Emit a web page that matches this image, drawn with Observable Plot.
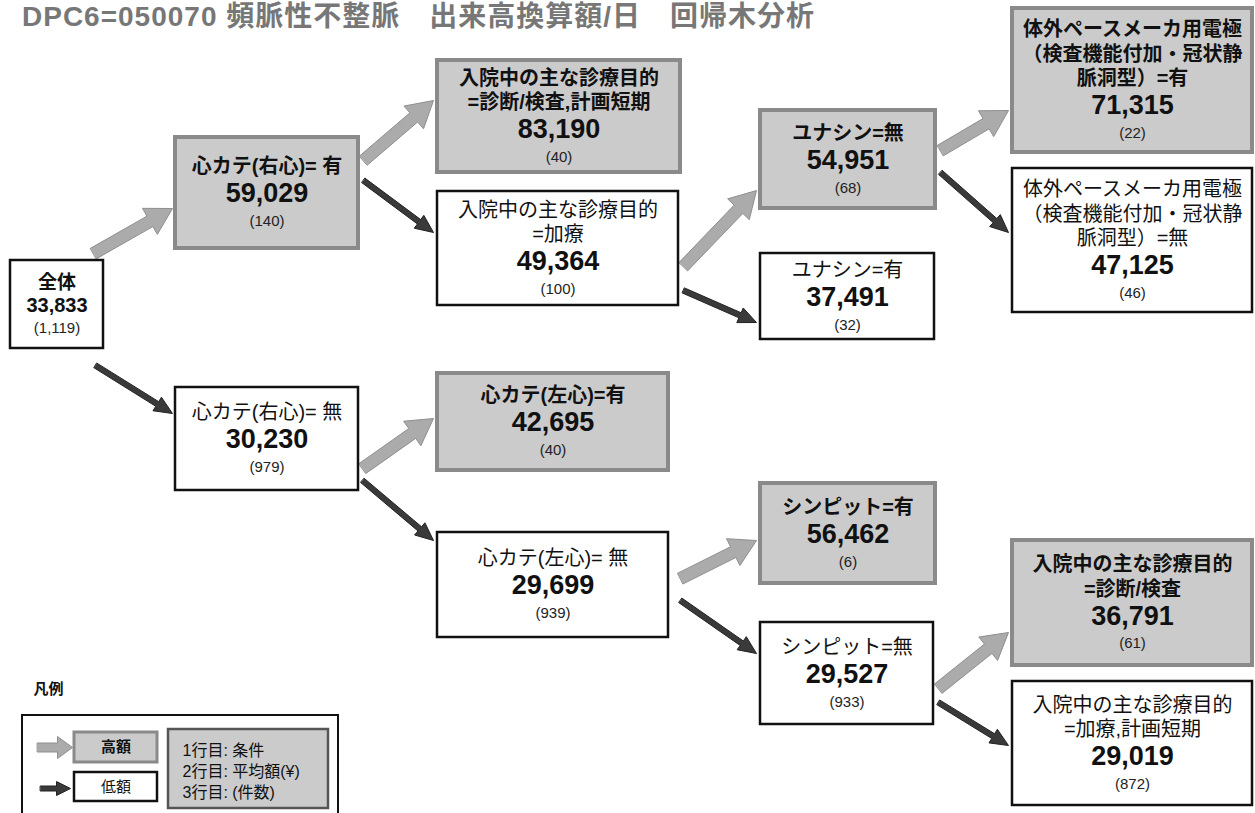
<!DOCTYPE html>
<html><head><meta charset="utf-8">
<script src="https://cdn.jsdelivr.net/npm/d3@7"></script>
<script src="https://cdn.jsdelivr.net/npm/@observablehq/plot@0.6"></script>
<style>
body{margin:0;background:#fff;}
#wrap{position:relative;width:1255px;height:813px;overflow:hidden;background:#fff;}
#title{position:absolute;left:22px;top:1px;font:bold 28px/32px "Liberation Sans","Noto Sans CJK JP",sans-serif;letter-spacing:1px;color:#777;white-space:pre;z-index:2;}
#chart{position:absolute;left:0;top:0;}
</style></head><body>
<div id="wrap"><div id="title">DPC6=050070 頻脈性不整脈　出来高換算額/日　回帰木分析</div><div id="chart"></div></div>
<script>
// ---- data ----
const nodeLabel = [
  "全体",
  "心カテ(右心)= 有",
  "入院中の主な診療目的\n=診断/検査,計画短期",
  "入院中の主な診療目的\n=加療",
  "ユナシン=無",
  "ユナシン=有",
  "体外ペースメーカ用電極\n（検査機能付加・冠状静\n脈洞型）=有",
  "体外ペースメーカ用電極\n（検査機能付加・冠状静\n脈洞型）=無",
  "心カテ(右心)= 無",
  "心カテ(左心)=有",
  "心カテ(左心)= 無",
  "シンピット=有",
  "シンピット=無",
  "入院中の主な診療目的\n=診断/検査",
  "入院中の主な診療目的\n=加療,計画短期"
];
const nodeMean  = [33833, 59029, 83190, 49364, 54951, 37491, 71315, 47125, 30230, 42695, 29699, 56462, 29527, 36791, 29019];
const nodeCount = [1119, 140, 40, 100, 68, 32, 22, 46, 979, 40, 939, 6, 933, 61, 872];
const nodeParent = [-1, 0, 1, 1, 3, 3, 4, 4, 0, 8, 8, 10, 10, 12, 12];
const legendItems = ["高額", "低額"];
const legendLines = ["1行目: 条件", "2行目: 平均額(¥)", "3行目: (件数)"];

// ---- layout (pixel space) ----
const boxX0 = [10,175,437,437,760,760,1012,1012,175,437,437,760,760,1012,1012];
const boxX1 = [103,358,680,678,935,934,1252,1252,358,668,668,935,933,1252,1252];
const boxY0 = [260,137,60,191,110,253,8,168,387,373,532,483,622,540,681];
const boxY1 = [348,248,172,305,208,339,152,312,490,470,637,583,724,665,805];
const arrX0 = [null,93,363,363,683,683,940,940,95,362,362,680,680,938,938];
const arrY0 = [null,253,160,180,266,290,150,172,365,468,480,578,600,688,702];
const arrX1 = [null,172,433,433,756,756,1008,1008,172,433,433,756,756,1008,1008];
const arrY1 = [null,208,100,232,190,322,110,232,413,418,540,540,653,632,745];

// high = higher mean among siblings
const nodes = nodeLabel.map((label, i) => {
  const p = nodeParent[i];
  let high = false;
  if (p >= 0) {
    const sib = nodeParent.map((q, j) => q === p ? j : -1).filter(j => j >= 0);
    high = nodeMean[i] === d3.max(sib, j => nodeMean[j]);
  }
  return {i, label, mean: nodeMean[i], count: nodeCount[i], parent: p, high,
    x0: boxX0[i], x1: boxX1[i], y0: boxY0[i], y1: boxY1[i]};
});

const fmt = d3.format(",");
const LH = 24.5, VH = 32, CH = 23;
nodes.forEach(n => {
  const lines = n.label.split("\n").length;
  const lh = n.i === 0 ? 23 : LH, vh = n.i === 0 ? 24 : VH, ch = n.i === 0 ? 20 : CH;
  const block = lines * lh + vh + ch;
  const top = (n.y0 + n.y1) / 2 - block / 2;
  n.cx = (n.x0 + n.x1) / 2;
  n.ly = top + lines * lh / 2;
  n.vy = top + lines * lh + vh / 2;
  n.cy = top + lines * lh + vh + ch / 2;
});

function arrowPoly(id, x0, y0, x1, y1, w, hw, hl) {
  const dx = x1 - x0, dy = y1 - y0, L = Math.hypot(dx, dy), ux = dx / L, uy = dy / L, nx = -uy, ny = ux;
  const bx = x1 - ux * hl, by = y1 - uy * hl;
  const pts = [[x0 + nx*w/2, y0 + ny*w/2], [bx + nx*w/2, by + ny*w/2], [bx + nx*hw/2, by + ny*hw/2], [x1, y1],
               [bx - nx*hw/2, by - ny*hw/2], [bx - nx*w/2, by - ny*w/2], [x0 - nx*w/2, y0 - ny*w/2]];
  return pts.map(([x, y]) => ({id, x, y}));
}
const grayArrows = [], darkArrows = [];
nodes.filter(n => n.parent >= 0).forEach(n => {
  if (n.high) grayArrows.push(...arrowPoly(n.i, arrX0[n.i], arrY0[n.i], arrX1[n.i], arrY1[n.i], 12, 30, 26));
  else darkArrows.push(...arrowPoly(n.i, arrX0[n.i], arrY0[n.i], arrX1[n.i], arrY1[n.i], 5.5, 16, 18));
});
// legend arrows
grayArrows.push(...arrowPoly("lg", 37, 747, 72, 747, 9, 22, 15));
darkArrows.push(...arrowPoly("ld", 40, 788, 70, 788, 5, 14, 14));

const legendBoxes = legendItems.map((t, k) => ({t, high: k === 0, x0: 74, x1: 157, y0: k === 0 ? 732 : 772, y1: k === 0 ? 762 : 801}));
const legendText = legendLines.map((t, k) => ({t, x: 182, y: 750 + k * 21}));

const FF = '"Liberation Sans","Noto Sans CJK JP",sans-serif';
const GRAYFILL = "#cbcbcb", GRAYSTROKE = "#8a8a8a";
const hi = nodes.filter(n => n.high), lo = nodes.filter(n => !n.high);

const plot = Plot.plot({
  width: 1255, height: 813, margin: 0,
  x: {domain: [0, 1255], range: [0, 1255], axis: null},
  y: {domain: [0, 813], range: [0, 813], axis: null},
  style: {background: "white", fontFamily: FF},
  marks: [
    Plot.line(grayArrows, {x: "x", y: "y", z: "id", curve: "linear-closed", fill: "#ababab", stroke: "#8f8f8f", strokeWidth: 1}),
    Plot.line(darkArrows, {x: "x", y: "y", z: "id", curve: "linear-closed", fill: "#3a3a3a", stroke: "#222", strokeWidth: 1}),
    Plot.rect(hi, {x1: "x0", x2: "x1", y1: "y0", y2: "y1", fill: GRAYFILL, stroke: GRAYSTROKE, strokeWidth: 4}),
    Plot.rect(lo, {x1: "x0", x2: "x1", y1: "y0", y2: "y1", fill: "white", stroke: "#111", strokeWidth: 2.5}),
    // condition labels
    Plot.text(hi, {x: "cx", y: "ly", text: "label", lineAnchor: "middle", lineHeight: 1.225, fontSize: 20, fontWeight: "bold", fill: "#111"}),
    Plot.text(lo.filter(n => n.i !== 0), {x: "cx", y: "ly", text: "label", lineAnchor: "middle", lineHeight: 1.225, fontSize: 20, fill: "#111"}),
    Plot.text(lo.filter(n => n.i === 0), {x: "cx", y: "ly", text: "label", fontSize: 19, fontWeight: "bold", fill: "#111"}),
    // values
    Plot.text(nodes.filter(n => n.i !== 0), {x: "cx", y: "vy", text: d => fmt(d.mean), fontSize: 27, fontWeight: "bold", fill: "#111"}),
    Plot.text(nodes.filter(n => n.i === 0), {x: "cx", y: "vy", text: d => fmt(d.mean), fontSize: 20, fontWeight: "bold", fill: "#111"}),
    // counts
    Plot.text(nodes, {x: "cx", y: "cy", text: d => "(" + fmt(d.count) + ")", fontSize: 15, fill: "#222"}),
    // legend
    Plot.text(["凡例"], {x: 33, y: 689, text: d => d, textAnchor: "start", fontSize: 15, fontWeight: "bold", fill: "#111"}),
    Plot.rect([0], {x1: 22, x2: 338, y1: 715, y2: 830, fill: "none", stroke: "#111", strokeWidth: 2}),
    Plot.rect(legendBoxes.filter(d => d.high), {x1: "x0", x2: "x1", y1: "y0", y2: "y1", fill: GRAYFILL, stroke: GRAYSTROKE, strokeWidth: 3}),
    Plot.rect(legendBoxes.filter(d => !d.high), {x1: "x0", x2: "x1", y1: "y0", y2: "y1", fill: "white", stroke: "#111", strokeWidth: 2.5}),
    Plot.text(legendBoxes.filter(d => d.high), {x: d => (d.x0 + d.x1) / 2, y: d => (d.y0 + d.y1) / 2, text: "t", fontSize: 15, fontWeight: "bold", fill: "#111"}),
    Plot.text(legendBoxes.filter(d => !d.high), {x: d => (d.x0 + d.x1) / 2, y: d => (d.y0 + d.y1) / 2, text: "t", fontSize: 15, fill: "#111"}),
    Plot.rect([0], {x1: 168, x2: 328, y1: 729, y2: 808, fill: GRAYFILL, stroke: "#555", strokeWidth: 2.5}),
    Plot.text(legendText, {x: "x", y: "y", text: "t", textAnchor: "start", fontSize: 16, fill: "#111"})
  ]
});
document.getElementById("chart").appendChild(plot);
</script>
</body></html>
